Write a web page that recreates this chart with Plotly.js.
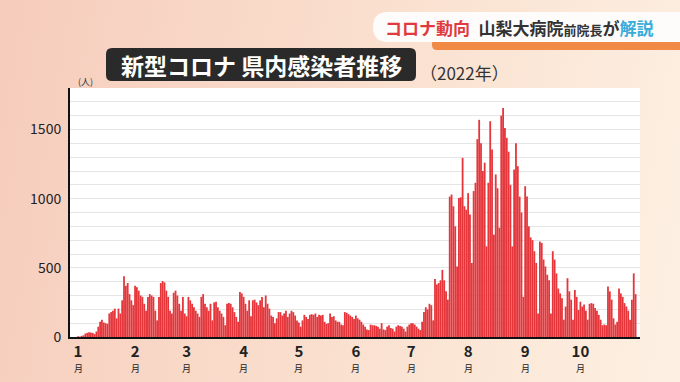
<!DOCTYPE html>
<html>
<head>
<meta charset="utf-8">
<script src="https://cdn.plot.ly/plotly-3.0.1.min.js"></script>
<style>
  html, body { margin:0; padding:0; }
  body { width:680px; height:382px; overflow:hidden;
    background: linear-gradient(100deg, #f6ccbc 0%, #f9d9c8 35%, #fbe6d6 70%, #fdf0e3 100%); }
  #chart { width:680px; height:382px; }
</style>
</head>
<body>
<div id="chart"></div>
<script>
// Daily new cases, Yamanashi, 2022
const jan = [5,3,8,12,25,30,35,32,30,22,40,75,110,125,105,100,95,170,180,190,205,135,205,170,265,440,370,390,310,265,230];
const feb = [370,360,335,300,290,240,190,290,310,300,290,190,120,290,390,405,395,335,290,190,170,320,335,300,240,190,290,170];
const mar = [150,290,265,240,215,190,170,145,290,310,240,215,190,240,120,250,255,215,190,170,145,85,240,245,240,215,180,145,110,325,315];
const apr = [290,240,190,265,150,265,270,250,230,265,290,215,300,240,205,155,145,100,135,180,180,155,170,190,145,170,190,180,155,120];
const may = [105,75,120,160,145,130,160,165,160,170,145,160,155,160,110,95,100,170,145,150,120,110,110,90,85,180,175,165,155,145,130];
const jun = [155,135,125,110,90,75,55,50,90,85,85,80,75,60,100,55,50,75,85,65,60,40,75,85,80,75,60,40,75,90];
const jul = [100,100,90,75,60,50,110,180,215,200,240,230,120,420,380,390,410,485,410,330,270,1015,1030,945,800,510,1005,1010,1295,945,920];
const aug = [1040,885,535,1055,1115,1430,1570,1400,1200,1260,655,1115,1560,1355,740,1175,1075,790,1600,1655,1510,1440,1340,1100,655,1210,1400,1235,1015,900,290];
const sep = [1090,1015,800,720,700,620,535,170,690,680,560,510,450,410,170,620,560,460,350,315,280,125,220,425,330,270,125,340,290,195];
const oct = [255,220,235,190,125,240,245,240,210,190,160,125,85,90,85,365,330,270,135,90,110,350,315,290,245,220,190,125,270,460,310];

const months = [jan, feb, mar, apr, may, jun, jul, aug, sep, oct];
const monthLabels = ['1','2','3','4','5','6','7','8','9','10'];
const monthUnit = '月';
const yTicks = [0,100,200,300,400,500,600,700,800,900,1000,1100,1200,1300,1400,1500,1600,1700,1800];
const yLabelStep = 500;

const values = [].concat(...months);
const days = values.map((v, i) => i);
const monthStarts = [];
let acc = 0;
months.forEach(m => { monthStarts.push(acc); acc += m.length; });

// pixel -> paper helpers for decoration
const L = 70, R = 640, T = 88, B = 337;
const PX = x => (x - L) / (R - L);
const PY = y => (B - y) / (B - T);
function rr(x0, y0, x1, y1, r) {
  const p = (x, y) => PX(x) + ',' + PY(y);
  return 'M' + p(x0 + r, y0) + ' L' + p(x1 - r, y0) + ' Q' + p(x1, y0) + ' ' + p(x1, y0 + r) +
    ' L' + p(x1, y1 - r) + ' Q' + p(x1, y1) + ' ' + p(x1 - r, y1) +
    ' L' + p(x0 + r, y1) + ' Q' + p(x0, y1) + ' ' + p(x0, y1 - r) +
    ' L' + p(x0, y0 + r) + ' Q' + p(x0, y0) + ' ' + p(x0 + r, y0) + ' Z';
}

const FONT = '"Noto Sans CJK JP", "Noto Sans", sans-serif';

const trace = {
  type: 'bar', x: days, y: values,
  marker: { color: '#e4363b', line: { width: 0 } },
  hoverinfo: 'skip'
};

const annotations = [
  { xref: 'paper', yref: 'paper', x: PX(261), y: PY(65), xanchor: 'center', yanchor: 'middle',
    text: '<b>新型コロナ 県内感染者推移</b>', showarrow: false,
    font: { size: 23, color: '#ffffff', family: FONT } },
  { xref: 'paper', yref: 'paper', x: PX(418), y: PY(72), xanchor: 'left', yanchor: 'middle',
    text: '（2022年）', showarrow: false,
    font: { size: 17, color: '#333', family: FONT } },
  { xref: 'paper', yref: 'paper', x: PX(85), y: PY(81), xanchor: 'center', yanchor: 'middle',
    text: '(人)', showarrow: false,
    font: { size: 9, color: '#333', family: FONT } },
  { xref: 'paper', yref: 'paper', x: PX(383), y: PY(28), xanchor: 'left', yanchor: 'middle',
    text: '<b><span style="color:#e03a3f">コロナ動向</span>\u2002山梨大病院<span style="font-size:13px">前院長</span>が<span style="color:#39acd9">解説</span></b>',
    showarrow: false,
    font: { size: 17, color: '#333', family: FONT } }
];
monthStarts.forEach(d => annotations.push({
  xref: 'x', yref: 'paper', x: d, y: PY(368), xanchor: 'center', yanchor: 'middle',
  text: monthUnit, showarrow: false, font: { size: 9, color: '#222', family: FONT }
}));

const layout = {
  width: 680, height: 382,
  margin: { l: L, r: 680 - R, t: T, b: 382 - B },
  paper_bgcolor: 'rgba(0,0,0,0)',
  plot_bgcolor: '#ffffff',
  bargap: 0.02,
  showlegend: false,
  font: { family: FONT, color: '#222' },
  xaxis: {
    range: [-4.35, 305.4],
    tickvals: monthStarts,
    ticktext: monthLabels.map(m => '<b>' + m + '</b>'),
    tickfont: { size: 15, color: '#222', family: FONT },
    ticks: '', showgrid: false, zeroline: false,
    showline: true, linecolor: '#111', linewidth: 2,
    fixedrange: true
  },
  yaxis: {
    range: [0, 1800],
    tickvals: yTicks,
    ticktext: yTicks.map(v => v % yLabelStep === 0 ? String(v) : ''),
    tickfont: { size: 14, color: '#222', family: FONT },
    ticks: 'outside', ticklen: 4, tickcolor: 'rgba(0,0,0,0)',
    showgrid: true, gridcolor: '#e6e6e6', gridwidth: 1,
    zeroline: false,
    showline: true, linecolor: '#111', linewidth: 2,
    fixedrange: true
  },
  shapes: [
    { type: 'path', xref: 'paper', yref: 'paper', layer: 'above', path: rr(432, 39, 700, 50, 5),
      fillcolor: '#f08a44', line: { width: 0 } },
    { type: 'path', xref: 'paper', yref: 'paper', layer: 'above', path: rr(373, 12, 720, 42, 15),
      fillcolor: '#fdfcfb', line: { width: 0 } },
    { type: 'path', xref: 'paper', yref: 'paper', layer: 'above', path: rr(106, 48, 416, 81, 6),
      fillcolor: '#2a2a2a', line: { width: 0 } }
  ],
  annotations: annotations
};

Plotly.newPlot('chart', [trace], layout, { staticPlot: true, displayModeBar: false });
</script>
</body>
</html>
